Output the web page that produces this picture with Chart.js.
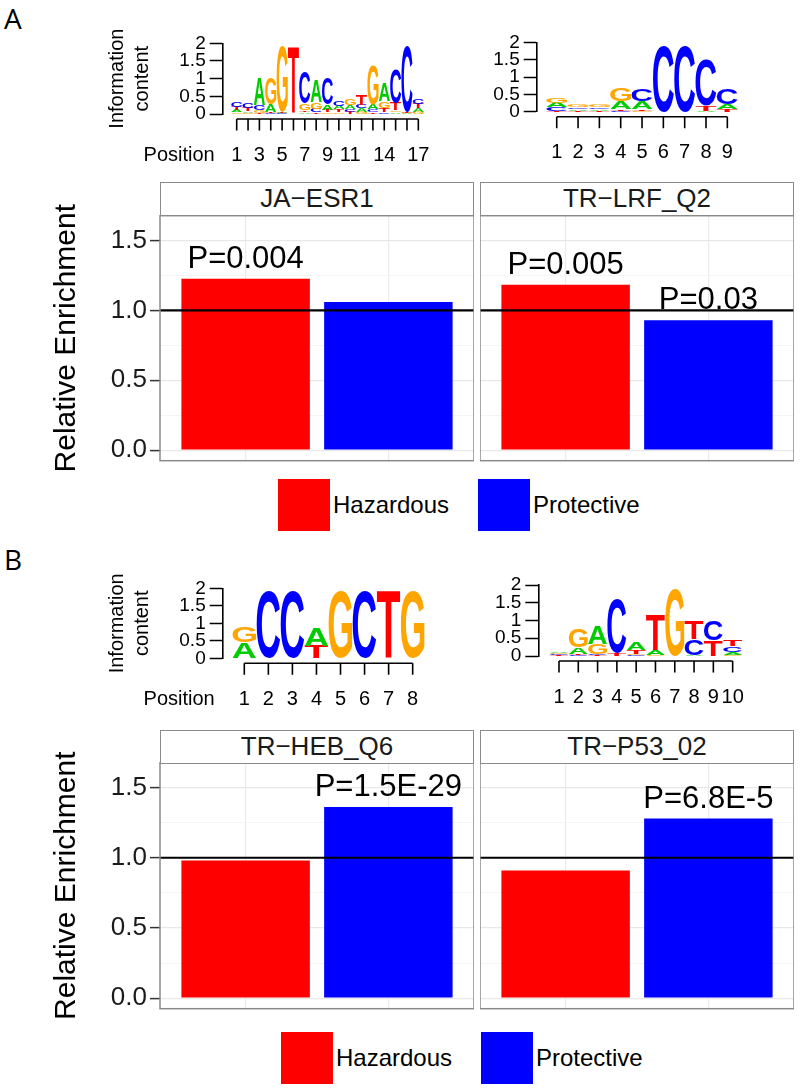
<!DOCTYPE html>
<html>
<head>
<meta charset="utf-8">
<script src="https://cdn.jsdelivr.net/npm/chart.js@4.4.1/dist/chart.umd.min.js"></script>
<style>
  body { margin: 0; width: 800px; height: 1090px; position: relative; background: #fff; overflow: hidden;
         font-family: "Liberation Sans", Arial, sans-serif; }
  .strip { position: absolute; box-sizing: border-box; border: 1.5px solid #8a8a8a; background: #fff;
           text-align: center; font-size: 26px; color: #1a1a1a; }
  .letter { position: absolute; font-family: "Open Sans", sans-serif; font-size: 28px; line-height: 28px; color: #000; }
  .key { position: absolute; width: 52px; height: 52px; }
  .key-label { position: absolute; font-size: 24px; line-height: 30px; color: #000; }
</style>
</head>
<body>
<script>
// bar data
const groups = ['Hazardous', 'Protective'];
const groupColors = ['#ff0000', '#0000ff'];
const yTicks = [0, 0.5, 1.0, 1.5];
const refLine = 1;

const esr1Values = [1.226, 1.06];
const esr1Pvals = ['P=0.004', ''];
const lrfValues = [1.184, 0.929];
const lrfPvals = ['P=0.005', 'P=0.03'];
const hebValues = [0.98, 1.361];
const hebPvals = ['', 'P=1.5E-29'];
const p53Values = [0.909, 1.279];
const p53Pvals = ['', 'P=6.8E-5'];

// motif logos (bits per base and position)
const bases = ['A', 'C', 'G', 'T'];
const logoYTicks = [0, 0.5, 1, 1.5, 2];

const esr1A = [0.06, 0.05, 0.75, 0.2, 0.03, 0.01, 0.05, 0.62, 0.15, 0.1, 0.12, 0.1, 0.15, 0.5, 0.05, 0.02, 0.1];
const esr1C = [0.14, 0.14, 0.15, 0.03, 0.02, 0.01, 0.9, 0.1, 0.75, 0.15, 0.08, 0.1, 0.08, 0.05, 0.95, 1.85, 0.15];
const esr1G = [0.05, 0.04, 0.06, 0.75, 1.85, 0.01, 0.2, 0.2, 0.05, 0.05, 0.2, 0.06, 1.1, 0.2, 0.05, 0.02, 0.06];
const esr1T = [0.1, 0.09, 0.04, 0.03, 0.02, 1.88, 0.05, 0.05, 0.07, 0.08, 0.06, 0.28, 0.05, 0.12, 0.2, 0.02, 0.13];
const esr1Pos = [1, 3, 5, 7, 9, 11, 14, 17];

const lrfA = [0.13, 0.05, 0.05, 0.24, 0.23, 0, 0, 0.02, 0.15];
const lrfC = [0.1, 0.05, 0.05, 0.02, 0.35, 1.9, 1.9, 1.35, 0.45];
const lrfG = [0.15, 0.06, 0.06, 0.38, 0.02, 0, 0, 0, 0];
const lrfT = [0.03, 0.03, 0.03, 0.05, 0.05, 0, 0, 0.15, 0.08];
const lrfPos = [1, 2, 3, 4, 5, 6, 7, 8, 9];

const hebA = [0.45, 0, 0, 0.5, 0, 0, 0, 0];
const hebC = [0, 1.93, 1.93, 0, 0, 1.93, 0, 0];
const hebG = [0.46, 0, 0, 0, 1.93, 0, 0, 1.93];
const hebT = [0, 0, 0, 0.36, 0, 0, 1.93, 0];
const hebPos = [1, 2, 3, 4, 5, 6, 7, 8];

const p53A = [0.04, 0.19, 0.5, 0.01, 0.22, 0.15, 0, 0.02, 0, 0.08];
const p53C = [0.03, 0.02, 0.03, 1.52, 0.03, 0, 0, 0.45, 0.55, 0.15];
const p53G = [0.03, 0.52, 0.28, 0, 0.03, 0.02, 1.9, 0, 0, 0.04];
const p53T = [0.02, 0.04, 0.02, 0.08, 0.12, 1.0, 0, 0.5, 0.45, 0.17];
const p53Pos = [1, 2, 3, 4, 5, 6, 7, 8, 9, 10];

const family = '"Liberation Sans", Arial, sans-serif';
const baseColors = { A: '#00cc00', C: '#0000ff', G: '#ffa500', T: '#ff0000' };
Chart.defaults.font.family = family;
Chart.defaults.color = '#000';

function makeCanvas(x, y, w, h) {
  const c = document.createElement('canvas');
  c.width = w;
  c.height = h;
  c.style.cssText = `position:absolute;left:${x}px;top:${y}px;width:${w}px;height:${h}px`;
  document.body.appendChild(c);
  return c;
}

function addDiv(cls, x, y, w, h, text) {
  const d = document.createElement('div');
  d.className = cls;
  d.style.left = x + 'px';
  d.style.top = y + 'px';
  if (w) d.style.width = w + 'px';
  if (h) { d.style.height = h + 'px'; d.style.lineHeight = (h - 3) + 'px'; }
  if (text) d.textContent = text;
  document.body.appendChild(d);
  return d;
}

// keep the plot area where the layout padding puts it
function fixWidth(w) {
  return (s) => {
    s.width = w;
    s.paddingTop = 0;
    s.paddingBottom = 0;
  };
}

// hline at 1, p-value labels and the panel border
const facetDecor = {
  id: 'facetDecor',
  afterDatasetsDraw(chart, args, opts) {
    const { ctx, chartArea: a, scales: { y } } = chart;
    const bars = chart.getDatasetMeta(0).data;
    ctx.save();
    ctx.font = `31px ${family}`;
    ctx.fillStyle = '#000';
    ctx.textAlign = 'center';
    ctx.textBaseline = 'alphabetic';
    opts.labels.forEach((t, i) => {
      if (t) ctx.fillText(t, bars[i].x, bars[i].y - 11);
    });
    const yr = y.getPixelForValue(refLine);
    ctx.strokeStyle = '#000';
    ctx.lineWidth = 2.2;
    ctx.beginPath();
    ctx.moveTo(a.left, yr);
    ctx.lineTo(a.right, yr);
    ctx.stroke();
    ctx.strokeStyle = '#8a8a8a';
    ctx.lineWidth = 1.5;
    ctx.strokeRect(a.left, a.top, a.right - a.left, a.bottom - a.top);
    ctx.restore();
  }
};

function facetChart(canvas, values, pvals, withAxis, padTop, padBottom) {
  const minor = yTicks.slice(1).map((v, i) => (v + yTicks[i]) / 2);
  const allTicks = yTicks.concat(minor).sort((a, b) => a - b);
  const isMajor = (v) => yTicks.includes(v);
  return new Chart(canvas, {
    type: 'bar',
    data: {
      datasets: [{
        data: values.map((v, i) => ({ x: i + 1, y: v })),
        backgroundColor: groupColors,
        barPercentage: 0.9,
        categoryPercentage: 1
      }]
    },
    options: {
      responsive: false,
      animation: false,
      layout: { padding: { top: padTop, bottom: padBottom, left: 0, right: 0 } },
      plugins: {
        legend: { display: false },
        tooltip: { enabled: false },
        facetDecor: { labels: pvals }
      },
      scales: {
        x: {
          type: 'linear',
          offset: false,
          min: 0.4,
          max: 2.6,
          afterBuildTicks: (s) => { s.ticks = groups.map((g, i) => ({ value: i + 1 })); },
          afterFit: (s) => { s.height = 0; s.paddingLeft = 0; s.paddingRight = 0; },
          ticks: { display: false },
          grid: { offset: false, color: '#ebebeb', lineWidth: 1.2, drawTicks: false },
          border: { display: false }
        },
        y: {
          min: -0.075,
          max: 1.677,
          afterBuildTicks: (s) => { s.ticks = allTicks.map((v) => ({ value: v })); },
          afterFit: fixWidth(withAxis ? 160 : 0),
          ticks: {
            display: withAxis,
            autoSkip: false,
            padding: 3,
            color: '#1a1a1a',
            font: { size: 26 },
            callback: (v) => (isMajor(v) ? v.toFixed(1) : '')
          },
          grid: {
            color: (c) => (isMajor(c.tick.value) ? '#e8e8e8' : '#f4f4f4'),
            lineWidth: (c) => (isMajor(c.tick.value) ? 1.2 : 1),
            drawTicks: withAxis,
            tickLength: 10,
            tickWidth: 1.5,
            tickColor: (c) => (isMajor(c.tick.value) ? '#333' : 'rgba(0,0,0,0)')
          },
          border: { display: false },
          title: {
            display: withAxis,
            text: 'Relative Enrichment',
            color: '#000',
            font: { size: 30 },
            padding: { top: 49, bottom: 0 }
          }
        }
      }
    },
    plugins: [facetDecor]
  });
}

// stretch one letter into a box
function drawGlyph(ctx, ch, left, top, w, h) {
  ctx.save();
  ctx.font = `bold 100px ${family}`;
  const m = ctx.measureText(ch);
  const gl = -m.actualBoundingBoxLeft;
  const gr = m.actualBoundingBoxRight;
  const gt = -m.actualBoundingBoxAscent;
  const gb = m.actualBoundingBoxDescent;
  ctx.translate(left, top);
  ctx.scale(w / (gr - gl), h / (gb - gt));
  ctx.translate(-gl, -gt);
  ctx.fillStyle = baseColors[ch];
  ctx.textAlign = 'left';
  ctx.textBaseline = 'alphabetic';
  ctx.fillText(ch, 0, 0);
  ctx.restore();
}

const logoDraw = {
  id: 'logoDraw',
  afterDraw(chart, args, opts) {
    const { ctx, chartArea: a, scales: { x, y } } = chart;
    const mat = opts.matrix;
    const n = mat[0].length;
    for (let i = 0; i < n; i++) {
      const p = i + 1;
      const stack = bases.map((b, k) => ({ b, h: mat[k][i] }))
        .filter((s) => s.h > 0)
        .sort((s, t) => s.h - t.h);
      const xl = x.getPixelForValue(p - 0.49);
      const xr = x.getPixelForValue(p + 0.49);
      let acc = 0;
      stack.forEach((s) => {
        const y0 = y.getPixelForValue(acc);
        const y1 = y.getPixelForValue(acc + s.h);
        if (y0 - y1 > 0.4) drawGlyph(ctx, s.b, xl, y1, xr - xl, y0 - y1);
        acc += s.h;
      });
    }
    // R style x axis
    const ay = y.getPixelForValue(0) + 5;
    ctx.save();
    ctx.strokeStyle = '#000';
    ctx.lineWidth = 1.6;
    ctx.beginPath();
    ctx.moveTo(x.getPixelForValue(1), ay);
    ctx.lineTo(x.getPixelForValue(n), ay);
    for (let p = 1; p <= n; p++) {
      ctx.moveTo(x.getPixelForValue(p), ay);
      ctx.lineTo(x.getPixelForValue(p), ay + 11.5);
    }
    ctx.stroke();
    ctx.font = `20px ${family}`;
    ctx.fillStyle = '#000';
    ctx.textAlign = 'center';
    ctx.textBaseline = 'middle';
    opts.positions.forEach((p) => ctx.fillText(String(p), x.getPixelForValue(p), ay + 36));
    if (opts.showTitle) {
      ctx.textAlign = 'right';
      ctx.fillText('Position', a.left - 8, ay + 36);
    }
    ctx.restore();
  }
};

function logoChart(canvas, matrix, positions, cfg) {
  return new Chart(canvas, {
    type: 'scatter',
    data: { datasets: [] },
    options: {
      responsive: false,
      animation: false,
      layout: { padding: { top: cfg.padTop, bottom: cfg.padBottom, left: 0, right: cfg.padRight } },
      plugins: {
        legend: { display: false },
        tooltip: { enabled: false },
        logoDraw: { matrix, positions, showTitle: cfg.showTitle }
      },
      scales: {
        x: { type: 'linear', display: false, min: cfg.xMin, max: positions[positions.length - 1] + 0.5 },
        y: {
          min: 0,
          max: 2,
          afterBuildTicks: (s) => { s.ticks = logoYTicks.map((v) => ({ value: v })); },
          afterFit: fixWidth(cfg.yWidth),
          ticks: { autoSkip: false, padding: 4, color: '#000', font: { size: 19 }, callback: (v) => String(v) },
          grid: { drawOnChartArea: false, tickLength: 13, tickWidth: 1.5, tickColor: '#000' },
          border: { display: true, color: '#000', width: 1.6 },
          title: {
            display: cfg.showTitle,
            text: ['Information', 'content'],
            color: '#000',
            font: { size: 20, lineHeight: 1.25 },
            padding: { top: 15, bottom: 0 }
          }
        }
      }
    },
    plugins: [logoDraw]
  });
}

// panel A
logoChart(makeCanvas(90, 10, 340, 160), [esr1A, esr1C, esr1G, esr1T], esr1Pos,
  { xMin: -0.233, yWidth: 132.7, padTop: 33.3, padBottom: 56, padRight: 6, showTitle: true });
logoChart(makeCanvas(480, 10, 270, 160), [lrfA, lrfC, lrfG, lrfT], lrfPos,
  { xMin: 0.061, yWidth: 56.7, padTop: 32.7, padBottom: 58.3, padRight: 12, showTitle: false });
facetChart(makeCanvas(0, 170, 474, 305), esr1Values, esr1Pvals, true, 45.7, 14.3);
facetChart(makeCanvas(480, 170, 314, 305), lrfValues, lrfPvals, false, 45.7, 14.3);
addDiv('strip', 160, 182, 314, 34, 'JA\u2212ESR1');
addDiv('strip', 480, 182, 314, 34, 'TR\u2212LRF_Q2');

// panel B
logoChart(makeCanvas(90, 560, 340, 160), [hebA, hebC, hebG, hebT], hebPos,
  { xMin: 0.102, yWidth: 132.7, padTop: 28.3, padBottom: 61.7, padRight: 5.3, showTitle: true });
logoChart(makeCanvas(480, 560, 270, 160), [p53A, p53C, p53G, p53T], p53Pos,
  { xMin: -0.072, yWidth: 58.3, padTop: 25, padBottom: 64, padRight: 7.7, showTitle: false });
facetChart(makeCanvas(0, 717, 474, 305), hebValues, hebPvals, true, 45.7, 13.3);
facetChart(makeCanvas(480, 717, 314, 305), p53Values, p53Pvals, false, 45.7, 13.3);
addDiv('strip', 160, 730, 314, 34, 'TR\u2212HEB_Q6');
addDiv('strip', 480, 730, 314, 34, 'TR\u2212P53_02');

// legends
function legend(x0, y0) {
  const keyX = [x0, x0 + 200];
  groups.forEach((g, i) => {
    const k = addDiv('key', keyX[i], y0);
    k.style.background = groupColors[i];
    const l = addDiv('key-label', keyX[i] + 55, y0 + 11);
    l.textContent = g;
  });
}
legend(278, 479);
legend(281, 1032);

addDiv('letter', 4, 4).textContent = 'A';
addDiv('letter', 4, 545).textContent = 'B';
</script>
</body>
</html>
